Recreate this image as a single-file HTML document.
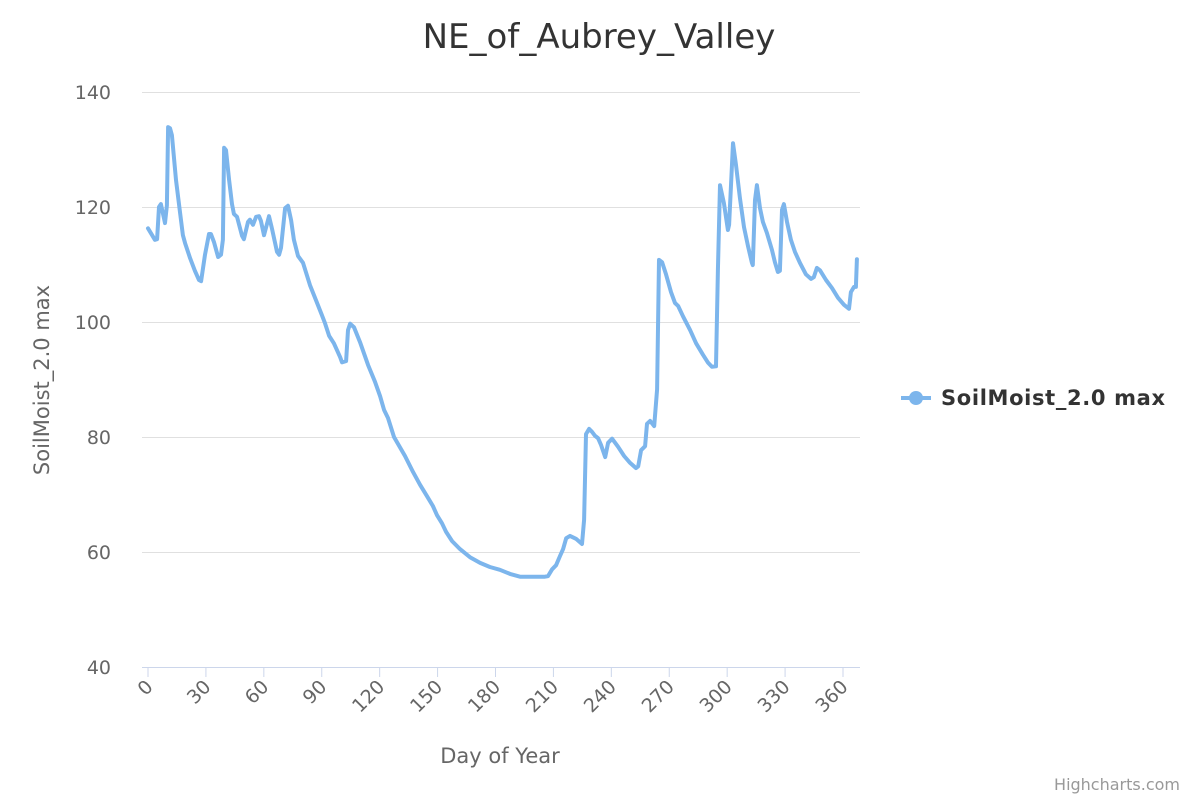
<!DOCTYPE html>
<html><head><meta charset="utf-8">
<style>
body{margin:0;background:#fff;font-family:"Liberation Sans","DejaVu Sans",sans-serif;}
svg text{font-family:"DejaVu Sans","Liberation Sans",sans-serif;}
</style></head>
<body>
<svg id="chart" width="1200" height="800" xmlns="http://www.w3.org/2000/svg">
<rect width="1200" height="800" fill="#fff"/>
<text x="599" y="48" text-anchor="middle" font-size="34" fill="#333">NE_of_Aubrey_Valley</text>
<g id="grid"></g>
<g id="yticks"></g>
<g id="xticks"></g>
<line x1="142" y1="667.5" x2="860" y2="667.5" stroke="#ccd6eb" stroke-width="1"/>
<text transform="translate(49,380) rotate(-90)" text-anchor="middle" font-size="21" fill="#666">SoilMoist_2.0 max</text>
<text x="500" y="763" text-anchor="middle" font-size="21" fill="#666">Day of Year</text>
<path id="series" fill="none" stroke="#7cb5ec" stroke-width="4" stroke-linejoin="round" stroke-linecap="round"/>
<g>
<line x1="901" y1="398" x2="931" y2="398" stroke="#7cb5ec" stroke-width="4"/>
<circle cx="916" cy="398" r="7" fill="#7cb5ec"/>
<text x="941" y="405" font-size="21" font-weight="bold" fill="#333" textLength="224">SoilMoist_2.0 max</text>
</g>
<text x="1180" y="790" text-anchor="end" font-size="16" fill="#999">Highcharts.com</text>
</svg>
<script>
const days=[0,3.6,4.7,5.7,6.7,8.8,9.8,10.4,11.4,12.4,14.5,16.6,18.1,19.2,21.8,24.3,26.4,27.5,29.5,31.6,32.6,34.2,36.3,37.8,38.8,39.4,40.4,42,43.5,44.5,46.1,48.7,49.7,51.8,52.8,54.4,56,57.5,58.5,60.1,62.7,64.2,66.8,67.9,68.9,71,72.5,74.1,75.6,77.7,80.3,83.9,86.5,90.1,91.7,93.8,96.3,99.5,100.5,102.6,103.6,104.7,106.7,109.8,114,117.6,120.2,122.3,124.3,127.4,133.1,137.3,140.9,144.5,147.6,149.7,152.3,154.4,157.5,161.6,166.8,172,177.1,182.3,187.5,192.7,200.5,205.6,207.2,209.3,211.4,213.4,215,216.6,218.6,221.7,224.8,225.9,226.9,228.5,230,231.6,233.1,234.7,236.8,238.3,240.4,243.5,246.6,249.7,252.8,253.9,255.4,257.5,258.5,260.1,262.2,263.7,264.7,266.3,268.3,270.9,273,274.6,277.1,280.8,283.9,287.5,290.1,292.1,294.2,295.2,296.3,298.3,300.4,301,302,303,304.6,306.6,308.7,310.8,312.8,313.3,314.4,315.4,317,318.5,320.6,323.2,324.7,326.3,327.3,328.4,329.4,331,333,335.1,337.7,340.8,343.4,344.9,346.5,348.1,351.2,354.3,357.4,360.5,363.1,364.1,365.7,366.7,367.2];
const values=[116.3,114.3,114.4,120.0,120.5,117.2,120.3,133.9,133.7,132.5,124.7,119.1,115.1,113.7,111.1,108.9,107.3,107.1,111.7,115.3,115.3,113.9,111.3,111.7,114.3,130.3,129.9,124.7,120.5,118.8,118.3,115,114.4,117.4,117.8,116.9,118.3,118.4,117.6,115.1,118.4,116.3,112.2,111.7,112.9,119.8,120.2,117.7,114.3,111.5,110.3,106.4,104.2,101.2,99.8,97.6,96.3,93.9,93,93.2,98.6,99.7,99.1,96.5,92.5,89.6,87.1,84.7,83.3,80,76.7,73.9,71.7,69.7,68,66.4,65,63.5,61.9,60.5,59.1,58.1,57.4,56.9,56.2,55.7,55.7,55.7,55.8,57,57.7,59.3,60.5,62.4,62.8,62.3,61.4,65.6,80.5,81.4,80.9,80.2,79.8,78.6,76.5,79,79.7,78.3,76.7,75.5,74.6,74.9,77.7,78.4,82.3,82.8,81.9,88.3,110.8,110.4,108.3,105.2,103.3,102.8,101,98.6,96.3,94.3,92.9,92.2,92.3,109,123.8,120.7,116,116.9,123.8,131.1,127.3,121.6,116.5,113.2,110.3,109.9,121.2,123.8,119.8,117.4,115.5,112.5,110.4,108.7,108.9,119.5,120.5,117.4,114.3,112.2,110.3,108.3,107.5,107.8,109.4,109,107.3,105.9,104.2,103,102.3,105.2,106.1,106.1,110.9];
const yTicks=[40,60,80,100,120,140];
const xTicks=[0,30,60,90,120,150,180,210,240,270,300,330,360];
const NS='http://www.w3.org/2000/svg';
const xs=d=>148+d*(695/360);
const ys=v=>667-(v-40)*5.75;
const grid=document.getElementById('grid'),yt=document.getElementById('yticks'),xt=document.getElementById('xticks');
yTicks.forEach(v=>{
 if(v>40){const l=document.createElementNS(NS,'line');
 
 
 l.setAttribute('x1',142);l.setAttribute('x2',860);l.setAttribute('y1',ys(v)+0.5);l.setAttribute('y2',ys(v)+0.5);
 l.setAttribute('stroke','#e0e0e0');grid.appendChild(l);}
 const t=document.createElementNS(NS,'text');
 
 
 t.setAttribute('x',111);t.setAttribute('y',ys(v)+7);t.setAttribute('text-anchor','end');
 t.setAttribute('font-size','19');t.setAttribute('fill','#666');t.textContent=v;yt.appendChild(t);
});
xTicks.forEach(d=>{
 const x=xs(d);
 const l=document.createElementNS(NS,'line');
 
 
 l.setAttribute('x1',x);l.setAttribute('x2',x);l.setAttribute('y1',667);l.setAttribute('y2',677);
 l.setAttribute('stroke','#ccd6eb');xt.appendChild(l);
 const t=document.createElementNS(NS,'text');
 
 
 t.setAttribute('transform','translate('+(x+6)+',688) rotate(-45)');
 t.setAttribute('text-anchor','end');t.setAttribute('font-size','19');t.setAttribute('fill','#666');
 t.textContent=d;xt.appendChild(t);
});
document.getElementById('series').setAttribute('d',days.map((d,i)=>(i?'L':'M')+xs(d).toFixed(1)+','+ys(values[i]).toFixed(1)).join(''));
</script>
</body></html>
